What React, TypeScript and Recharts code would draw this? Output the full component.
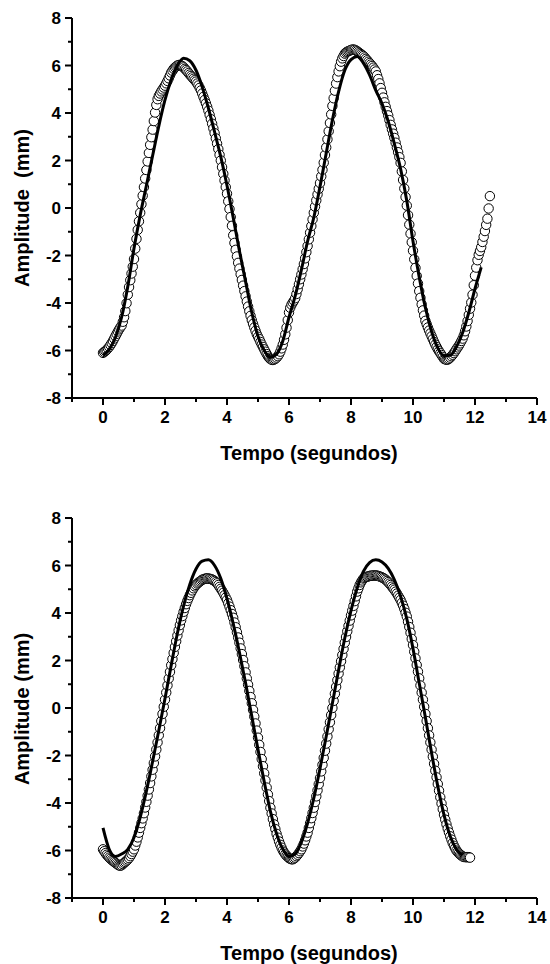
import React from 'react';
import { ComposedChart, Line, Scatter, XAxis, YAxis } from 'recharts';

const FONT = "'Liberation Sans', Arial, sans-serif";

const CIRCLE_STEP = 0.04; // s between measured samples (25 frames per second)
const LINE_STEP = 0.2; // s between fitted-curve samples

const xTicks = [-1, 0, 1, 2, 3, 4, 5, 6, 7, 8, 9, 10, 11, 12, 13, 14];
const yTicks = [-8, -7, -6, -5, -4, -3, -2, -1, 0, 1, 2, 3, 4, 5, 6, 7, 8];

const topCircles = [
  -6.10, -6.06, -6.02, -5.97, -5.91, -5.85, -5.77, -5.69, -5.60, -5.50,
  -5.40, -5.30, -5.20, -5.11, -5.03, -4.95, -4.79, -4.60, -4.34, -4.01,
  -3.65, -3.33, -3.04, -2.76, -2.47, -2.15, -1.71, -1.30, -0.92, -0.56,
  -0.20, 0.16, 0.52, 0.88, 1.24, 1.60, 1.96, 2.32, 2.66, 2.98,
  3.30, 3.66, 4.02, 4.34, 4.58, 4.72, 4.82, 4.91, 4.99, 5.07,
  5.15, 5.25, 5.35, 5.46, 5.58, 5.70, 5.78, 5.86, 5.92, 5.96,
  6.00, 6.02, 6.02, 6.00, 5.97, 5.92, 5.86, 5.81, 5.75, 5.68,
  5.62, 5.56, 5.50, 5.44, 5.38, 5.32, 5.24, 5.16, 5.06, 4.95,
  4.82, 4.68, 4.55, 4.41, 4.26, 4.10, 3.92, 3.74, 3.55, 3.35,
  3.15, 2.93, 2.71, 2.48, 2.24, 2.00, 1.72, 1.44, 1.16, 0.88,
  0.60, 0.28, -0.04, -0.38, -0.75, -1.15, -1.47, -1.76, -2.04, -2.31,
  -2.55, -2.79, -3.03, -3.27, -3.50, -3.72, -3.94, -4.15, -4.35, -4.54,
  -4.72, -4.88, -5.03, -5.17, -5.31, -5.42, -5.52, -5.64, -5.75, -5.85,
  -5.95, -6.05, -6.15, -6.24, -6.31, -6.36, -6.39, -6.40, -6.38, -6.35,
  -6.30, -6.24, -6.16, -6.05, -5.91, -5.75, -5.55, -5.32, -5.04, -4.72,
  -4.40, -4.20, -4.07, -3.98, -3.90, -3.80, -3.62, -3.42, -3.21, -3.00,
  -2.80, -2.58, -2.36, -2.12, -1.86, -1.60, -1.32, -1.04, -0.76, -0.48,
  -0.20, 0.06, 0.32, 0.57, 0.81, 1.05, 1.33, 1.61, 1.91, 2.23,
  2.55, 2.89, 3.23, 3.58, 3.94, 4.30, 4.62, 4.94, 5.24, 5.51,
  5.75, 5.97, 6.16, 6.30, 6.40, 6.50, 6.55, 6.58, 6.61, 6.63,
  6.65, 6.67, 6.67, 6.66, 6.63, 6.60, 6.56, 6.52, 6.48, 6.44,
  6.40, 6.34, 6.28, 6.22, 6.16, 6.10, 6.04, 5.98, 5.91, 5.83,
  5.75, 5.59, 5.43, 5.25, 5.05, 4.85, 4.65, 4.45, 4.26, 4.08,
  3.90, 3.70, 3.50, 3.31, 3.13, 2.95, 2.75, 2.55, 2.35, 2.14,
  1.90, 1.54, 1.18, 0.82, 0.46, 0.10, -0.30, -0.70, -1.08, -1.44,
  -1.80, -2.16, -2.52, -2.86, -3.18, -3.50, -3.78, -4.06, -4.31, -4.53,
  -4.75, -4.89, -5.03, -5.16, -5.28, -5.40, -5.52, -5.64, -5.75, -5.85,
  -5.95, -6.03, -6.11, -6.19, -6.27, -6.35, -6.37, -6.39, -6.38, -6.35,
  -6.30, -6.24, -6.18, -6.11, -6.03, -5.95, -5.87, -5.79, -5.70, -5.60,
  -5.50, -5.36, -5.19, -4.99, -4.76, -4.50, -4.24, -3.98, -3.65, -3.25,
  -2.85, -2.51, -2.20, -1.97, -1.81, -1.65, -1.43, -1.21, -0.97, -0.71,
  -0.45, -0.02, 0.50,
];

const topLine = [
  -6.2, -5.95, -5.45, -4.6, -3.3, -1.7, -0.3, 0.95, 2.2, 3.45,
  4.55, 5.4, 6.0, 6.3, 6.2, 5.8, 5.1, 4.2, 3.2, 2.15,
  0.95, -0.4, -1.8, -3.1, -4.4, -5.4, -6.0, -6.28, -6.15, -5.6,
  -4.6, -3.7, -2.6, -1.4, -0.4, 0.9, 2.3, 3.7, 4.9, 5.8,
  6.25, 6.38, 6.1, 5.6, 4.95, 4.4, 3.65, 2.7, 1.65, 0.3,
  -1.4, -2.9, -4.2, -5.2, -5.9, -6.22, -6.2, -5.85, -5.25, -4.4,
  -3.4, -2.5,
];

const bottomCircles = [
  -5.95, -6.03, -6.11, -6.18, -6.24, -6.30, -6.35, -6.40, -6.44, -6.48,
  -6.52, -6.56, -6.60, -6.63, -6.64, -6.62, -6.57, -6.52, -6.48, -6.43,
  -6.38, -6.32, -6.24, -6.15, -6.05, -5.95, -5.79, -5.63, -5.45, -5.25,
  -5.05, -4.85, -4.65, -4.43, -4.19, -3.95, -3.69, -3.43, -3.16, -2.88,
  -2.60, -2.32, -2.04, -1.75, -1.45, -1.15, -0.85, -0.55, -0.25, 0.05,
  0.35, 0.65, 0.95, 1.24, 1.52, 1.80, 2.06, 2.32, 2.57, 2.81,
  3.05, 3.27, 3.49, 3.69, 3.87, 4.05, 4.21, 4.37, 4.51, 4.63,
  4.75, 4.85, 4.95, 5.04, 5.12, 5.18, 5.24, 5.28, 5.32, 5.36,
  5.40, 5.42, 5.44, 5.45, 5.46, 5.45, 5.44, 5.43, 5.41, 5.38,
  5.35, 5.30, 5.25, 5.18, 5.10, 5.02, 4.94, 4.85, 4.75, 4.65,
  4.55, 4.41, 4.27, 4.12, 3.96, 3.80, 3.60, 3.40, 3.19, 2.97,
  2.75, 2.51, 2.27, 2.02, 1.76, 1.50, 1.24, 0.98, 0.72, 0.46,
  0.20, -0.08, -0.36, -0.65, -0.95, -1.25, -1.55, -1.85, -2.15, -2.45,
  -2.75, -3.05, -3.35, -3.64, -3.92, -4.20, -4.44, -4.68, -4.90, -5.10,
  -5.30, -5.46, -5.62, -5.76, -5.88, -6.00, -6.08, -6.16, -6.22, -6.27,
  -6.32, -6.35, -6.37, -6.37, -6.34, -6.30, -6.24, -6.18, -6.11, -6.03,
  -5.95, -5.83, -5.71, -5.57, -5.41, -5.25, -5.05, -4.85, -4.64, -4.42,
  -4.20, -3.96, -3.72, -3.47, -3.21, -2.95, -2.67, -2.39, -2.10, -1.80,
  -1.50, -1.20, -0.90, -0.60, -0.30, 0.00, 0.30, 0.60, 0.89, 1.17,
  1.45, 1.71, 1.97, 2.23, 2.49, 2.75, 2.99, 3.23, 3.46, 3.68,
  3.90, 4.10, 4.30, 4.50, 4.70, 4.90, 5.04, 5.18, 5.29, 5.37,
  5.45, 5.48, 5.51, 5.53, 5.54, 5.56, 5.57, 5.57, 5.58, 5.58,
  5.58, 5.57, 5.56, 5.54, 5.52, 5.50, 5.47, 5.44, 5.40, 5.35,
  5.30, 5.24, 5.18, 5.11, 5.04, 4.98, 4.90, 4.82, 4.73, 4.64,
  4.55, 4.43, 4.31, 4.17, 4.01, 3.85, 3.63, 3.41, 3.17, 2.91,
  2.65, 2.37, 2.09, 1.81, 1.53, 1.25, 0.95, 0.65, 0.35, 0.05,
  -0.25, -0.55, -0.85, -1.15, -1.45, -1.75, -2.05, -2.35, -2.64, -2.92,
  -3.20, -3.48, -3.76, -4.02, -4.26, -4.50, -4.70, -4.90, -5.08, -5.24,
  -5.40, -5.54, -5.68, -5.80, -5.90, -6.00, -6.06, -6.12, -6.17, -6.21,
  -6.25, -6.27, -6.28, -6.28, -6.28, -6.28, -6.30,
];

const bottomLine = [
  -5.05, -5.95, -6.25, -6.15, -5.95, -5.45, -4.6, -3.5, -2.25, -0.95,
  0.4, 1.8, 3.15, 4.3, 5.2, 5.85, 6.18, 6.24, 6.0, 5.45,
  4.6, 3.55, 2.35, 1.05, -0.35, -1.75, -3.1, -4.35, -5.3, -5.95,
  -6.25, -6.15, -5.65, -4.85, -3.8, -2.55, -1.2, 0.2, 1.6, 2.95,
  4.1, 5.05, 5.75, 6.12, 6.24, 6.15, 5.88, 5.4, 4.7, 3.75,
  2.5, 1.05, -0.4, -1.9, -3.3, -4.5, -5.4, -5.95, -6.2,
];

const toPoints = (vals: number[], step: number) =>
  vals.map((v, i) => ({ t: Math.round(i * step * 1000) / 1000, v }));

const XTick = (props: any) => {
  const { x, y, payload } = props;
  const val = payload.value;
  const major = val % 2 === 0;
  return (
    <g>
      <line x1={x} y1={y} x2={x} y2={y + (major ? 7 : 4)} stroke="#000" strokeWidth={2} />
      {major && (
        <text x={x} y={y + 25} textAnchor="middle" fontSize={17} fontWeight="bold" fontFamily={FONT} fill="#000">
          {val}
        </text>
      )}
    </g>
  );
};

const YTick = (props: any) => {
  const { x, y, payload } = props;
  const val = payload.value;
  const major = val % 2 === 0;
  return (
    <g>
      <line x1={x} y1={y} x2={x - (major ? 7 : 4)} y2={y} stroke="#000" strokeWidth={2} />
      {major && (
        <text x={x - 11} y={y} dy="0.36em" textAnchor="end" fontSize={17} fontWeight="bold" fontFamily={FONT} fill="#000">
          {val}
        </text>
      )}
    </g>
  );
};

const OpenCircle = (props: any) => {
  const { cx, cy } = props;
  if (cx == null || cy == null) return null;
  return <circle cx={cx} cy={cy} r={4.7} fill="#fff" stroke="#000" strokeWidth={1} />;
};

type PanelProps = {
  circles: number[];
  line: number[];
  marginTop: number;
  marginBottom: number;
};

const X_AXIS_H = 30;
const Y_AXIS_W = 72;
const RIGHT = 13;

const CirclePanel = ({ circles, marginTop, marginBottom }: PanelProps) => {
  const circleData = toPoints(circles, CIRCLE_STEP);
  return (
    <ComposedChart
      width={550}
      height={482}
      margin={{ top: marginTop, right: RIGHT, bottom: marginBottom, left: 0 }}
    >
      <XAxis
        dataKey="t"
        type="number"
        domain={[-1, 14]}
        ticks={xTicks}
        interval={0}
        tickSize={0}
        tickMargin={0}
        tickLine={false}
        tick={<XTick />}
        axisLine={{ stroke: '#000', strokeWidth: 2 }}
        height={X_AXIS_H}
        allowDataOverflow
      />
      <YAxis
        dataKey="v"
        type="number"
        domain={[-8, 8]}
        ticks={yTicks}
        interval={0}
        tickSize={0}
        tickMargin={0}
        tickLine={false}
        tick={<YTick />}
        axisLine={{ stroke: '#000', strokeWidth: 2 }}
        width={Y_AXIS_W}
        allowDataOverflow
      />
      <Scatter data={circleData} dataKey="v" shape={<OpenCircle />} isAnimationActive={false} />
    </ComposedChart>
  );
};

const LinePanel = ({ line, marginTop, marginBottom }: PanelProps) => {
  const lineData = toPoints(line, LINE_STEP);
  return (
    <ComposedChart
      width={550}
      height={482}
      data={lineData}
      margin={{ top: marginTop, right: RIGHT, bottom: marginBottom + X_AXIS_H, left: Y_AXIS_W }}
    >
      <XAxis dataKey="t" type="number" domain={[-1, 14]} hide allowDataOverflow />
      <YAxis dataKey="v" type="number" domain={[-8, 8]} hide allowDataOverflow />
      <Line
        dataKey="v"
        type="monotone"
        stroke="#000"
        strokeWidth={3}
        dot={false}
        activeDot={false}
        isAnimationActive={false}
      />
    </ComposedChart>
  );
};

const Panel = (p: PanelProps) => (
  <div style={{ position: 'relative', width: 550, height: 482 }}>
    <div style={{ position: 'absolute', left: 0, top: 0 }}>
      <CirclePanel {...p} />
    </div>
    <div style={{ position: 'absolute', left: 0, top: 0 }}>
      <LinePanel {...p} />
    </div>
  </div>
);

const titleStyle = { fontFamily: FONT, fontWeight: 'bold' as const, fontSize: 20, fill: '#000' };

export default function App() {
  return (
    <div style={{ position: 'absolute', left: 0, top: 0, width: 550, height: 964, background: '#fff' }}>
      <div style={{ position: 'absolute', left: 0, top: 0 }}>
        <Panel circles={topCircles} line={topLine} marginTop={18} marginBottom={54} />
      </div>
      <div style={{ position: 'absolute', left: 0, top: 482 }}>
        <Panel circles={bottomCircles} line={bottomLine} marginTop={36} marginBottom={36} />
      </div>
      <svg
        width={550}
        height={964}
        style={{ position: 'absolute', left: 0, top: 0, pointerEvents: 'none' }}
      >
        <text x={309} y={460} textAnchor="middle" {...titleStyle}>Tempo (segundos)</text>
        <text x={309} y={960} textAnchor="middle" {...titleStyle}>Tempo (segundos)</text>
        <text x={29} y={208} textAnchor="middle" transform="rotate(-90 29 208)" {...titleStyle} xmlSpace="preserve">
          Amplitude  (mm)
        </text>
        <text x={29} y={709} textAnchor="middle" transform="rotate(-90 29 709)" {...titleStyle}>
          Amplitude (mm)
        </text>
      </svg>
    </div>
  );
}
